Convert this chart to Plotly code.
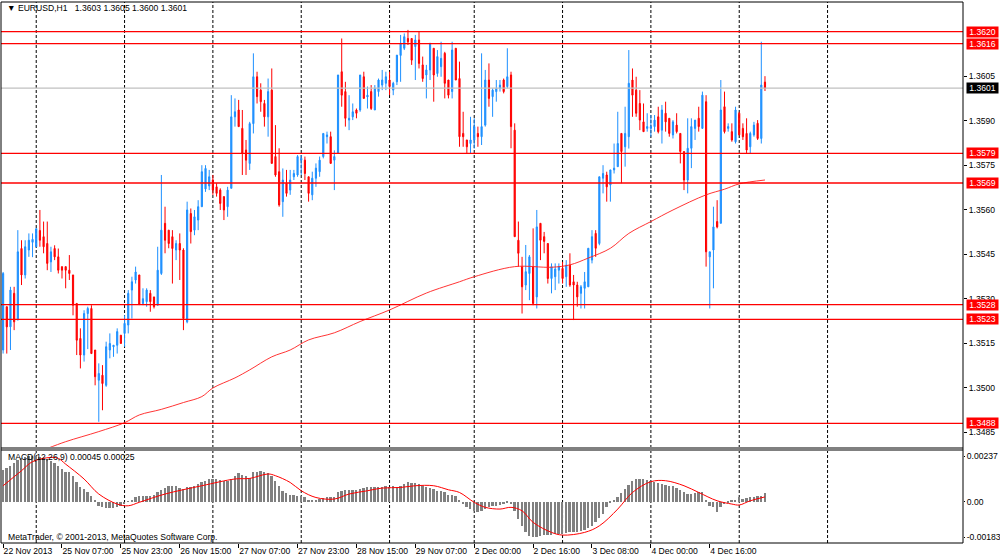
import plotly.graph_objects as go

# hourly bars, index 0 = 22 Nov 2013 15:00
opens = [
    1.35127, 1.35273, 1.35205, 1.35318, 1.35228, 1.35469, 1.35380, 1.35464, 1.35490, 1.35475,
    1.35530, 1.35509, 1.35486, 1.35424, 1.35469, 1.35441, 1.35408, 1.35408, 1.35396, 1.35380,
    1.35284, 1.35166, 1.35110, 1.35250, 1.35267, 1.35127, 1.35025, 1.35042, 1.35008, 1.35127,
    1.35138, 1.35143, 1.35177, 1.35183, 1.35211, 1.35329, 1.35363, 1.35380, 1.35284, 1.35290,
    1.35318, 1.35306, 1.35278, 1.35385, 1.35554, 1.35531, 1.35509, 1.35464, 1.35486, 1.35464,
    1.35222, 1.35587, 1.35531, 1.35565, 1.35610, 1.35670, 1.35680, 1.35700, 1.35677, 1.35666,
    1.35644, 1.35610, 1.35672, 1.35913, 1.35936, 1.35874, 1.35801, 1.35756, 1.35890, 1.36048,
    1.36003, 1.35958, 1.35913, 1.36003, 1.35779, 1.35728, 1.35627, 1.35689, 1.35666, 1.35711,
    1.35717, 1.35767, 1.35767, 1.35711, 1.35650, 1.35706, 1.35728, 1.35779, 1.35846, 1.35846,
    1.35767, 1.35790, 1.36065, 1.35998, 1.35902, 1.35913, 1.35936, 1.35936, 1.36048, 1.35980,
    1.35998, 1.35936, 1.35998, 1.36020, 1.36026, 1.36037, 1.36003, 1.36031, 1.36120, 1.36144,
    1.36177, 1.36177, 1.36150, 1.36172, 1.36088, 1.36054, 1.36071, 1.36144, 1.36059, 1.36082,
    1.36127, 1.36037, 1.35998, 1.36144, 1.36042, 1.35857, 1.35835, 1.35823, 1.35835, 1.35857,
    1.35846, 1.35885, 1.36037, 1.35981, 1.35998, 1.36009, 1.36037, 1.36015, 1.36054, 1.35868,
    1.35497, 1.35408, 1.35346, 1.35385, 1.35408, 1.35306, 1.35554, 1.35509, 1.35486, 1.35368,
    1.35374, 1.35396, 1.35402, 1.35374, 1.35413, 1.35357, 1.35346, 1.35318, 1.35335, 1.35340,
    1.35430, 1.35520, 1.35486, 1.35706, 1.35717, 1.35683, 1.35734, 1.35745, 1.35857, 1.35812,
    1.35846, 1.36037, 1.36003, 1.35958, 1.35896, 1.35874, 1.35874, 1.35880, 1.35913, 1.35868,
    1.35925, 1.35908, 1.35852, 1.35885, 1.35857, 1.35796, 1.35700, 1.35807, 1.35874, 1.35908,
    1.35874, 1.35964, 1.35441, 1.35464, 1.35560, 1.35554, 1.35947, 1.35874, 1.35863, 1.35829,
    1.35925, 1.35874, 1.35857, 1.35812, 1.35852, 1.35891, 1.35840, 1.36030,
]
highs = [
    1.35390, 1.35273, 1.35340, 1.35340, 1.35531, 1.35497, 1.35497, 1.35520, 1.35520, 1.35536,
    1.35599, 1.35560, 1.35560, 1.35475, 1.35480, 1.35469, 1.35408, 1.35408, 1.35447, 1.35380,
    1.35284, 1.35200, 1.35261, 1.35273, 1.35278, 1.35127, 1.35082, 1.35076, 1.35155, 1.35183,
    1.35144, 1.35200, 1.35177, 1.35244, 1.35329, 1.35374, 1.35408, 1.35380, 1.35335, 1.35335,
    1.35329, 1.35306, 1.35475, 1.35717, 1.35610, 1.35531, 1.35531, 1.35497, 1.35520, 1.35470,
    1.35627, 1.35604, 1.35599, 1.35632, 1.35750, 1.35750, 1.35734, 1.35717, 1.35689, 1.35672,
    1.35644, 1.35677, 1.35986, 1.35975, 1.35970, 1.35936, 1.35835, 1.35896, 1.36127, 1.36065,
    1.36026, 1.35970, 1.36042, 1.36076, 1.35885, 1.35807, 1.35739, 1.35734, 1.35734, 1.35734,
    1.35784, 1.35784, 1.35779, 1.35711, 1.35728, 1.35756, 1.35779, 1.35857, 1.35863, 1.35863,
    1.35800, 1.36054, 1.36177, 1.36031, 1.35986, 1.35958, 1.35941, 1.36054, 1.36065, 1.36015,
    1.36020, 1.36020, 1.36042, 1.36071, 1.36065, 1.36065, 1.36031, 1.36121, 1.36189, 1.36194,
    1.36206, 1.36177, 1.36189, 1.36200, 1.36116, 1.36088, 1.36161, 1.36144, 1.36138, 1.36166,
    1.36132, 1.36037, 1.36166, 1.36144, 1.36099, 1.35930, 1.35835, 1.35913, 1.35908, 1.35880,
    1.36127, 1.36071, 1.36093, 1.36009, 1.36037, 1.36037, 1.36042, 1.36144, 1.36065, 1.35891,
    1.35560, 1.35441, 1.35481, 1.35447, 1.35537, 1.35599, 1.35554, 1.35525, 1.35486, 1.35419,
    1.35419, 1.35419, 1.35424, 1.35430, 1.35453, 1.35380, 1.35357, 1.35346, 1.35390, 1.35470,
    1.35531, 1.35531, 1.35711, 1.35750, 1.35728, 1.35734, 1.35823, 1.35930, 1.35857, 1.35947,
    1.36138, 1.36076, 1.36048, 1.36003, 1.35958, 1.35925, 1.35919, 1.35919, 1.35947, 1.35953,
    1.35964, 1.35908, 1.35902, 1.35925, 1.35857, 1.35796, 1.35908, 1.35908, 1.35902, 1.35947,
    1.35998, 1.35986, 1.35458, 1.35610, 1.35632, 1.36037, 1.35998, 1.35891, 1.35891, 1.35947,
    1.35930, 1.35891, 1.35908, 1.35863, 1.35896, 1.35902, 1.36166, 1.36050,
]
lows = [
    1.35115, 1.35115, 1.35127, 1.35194, 1.35228, 1.35346, 1.35368, 1.35441, 1.35440, 1.35475,
    1.35475, 1.35453, 1.35396, 1.35390, 1.35430, 1.35385, 1.35368, 1.35335, 1.35363, 1.35244,
    1.35110, 1.35065, 1.35088, 1.35130, 1.35115, 1.35008, 1.34885, 1.34924, 1.35003, 1.35099,
    1.35104, 1.35115, 1.35149, 1.35138, 1.35183, 1.35233, 1.35351, 1.35280, 1.35278, 1.35273,
    1.35256, 1.35267, 1.35278, 1.35380, 1.35453, 1.35470, 1.35351, 1.35430, 1.35363, 1.35194,
    1.35217, 1.35486, 1.35514, 1.35531, 1.35610, 1.35660, 1.35666, 1.35650, 1.35644, 1.35599,
    1.35565, 1.35576, 1.35672, 1.35880, 1.35880, 1.35717, 1.35717, 1.35734, 1.35857, 1.35958,
    1.35930, 1.35880, 1.35846, 1.35756, 1.35711, 1.35610, 1.35576, 1.35644, 1.35650, 1.35700,
    1.35711, 1.35717, 1.35700, 1.35627, 1.35632, 1.35677, 1.35711, 1.35773, 1.35823, 1.35756,
    1.35666, 1.35790, 1.35947, 1.35880, 1.35868, 1.35902, 1.35908, 1.35930, 1.35975, 1.35941,
    1.35936, 1.35936, 1.35981, 1.36003, 1.36003, 1.35986, 1.35986, 1.36020, 1.36031, 1.36138,
    1.36155, 1.36088, 1.36037, 1.36076, 1.36031, 1.35975, 1.36037, 1.35964, 1.36048, 1.36048,
    1.35975, 1.35975, 1.35975, 1.36037, 1.35812, 1.35812, 1.35790, 1.35790, 1.35806, 1.35812,
    1.35818, 1.35880, 1.35947, 1.35913, 1.35964, 1.35998, 1.35992, 1.36009, 1.35807, 1.35509,
    1.35408, 1.35250, 1.35329, 1.35295, 1.35278, 1.35267, 1.35430, 1.35453, 1.35351, 1.35318,
    1.35329, 1.35351, 1.35351, 1.35340, 1.35340, 1.35228, 1.35273, 1.35267, 1.35267, 1.35340,
    1.35419, 1.35441, 1.35480, 1.35655, 1.35627, 1.35627, 1.35722, 1.35745, 1.35689, 1.35745,
    1.35806, 1.35913, 1.35913, 1.35868, 1.35863, 1.35863, 1.35846, 1.35863, 1.35857, 1.35823,
    1.35863, 1.35846, 1.35840, 1.35857, 1.35756, 1.35666, 1.35655, 1.35740, 1.35835, 1.35863,
    1.35874, 1.35408, 1.35267, 1.35335, 1.35537, 1.35554, 1.35857, 1.35863, 1.35829, 1.35823,
    1.35852, 1.35835, 1.35790, 1.35790, 1.35846, 1.35835, 1.35823, 1.36000,
]
closes = [
    1.35385, 1.35205, 1.35329, 1.35222, 1.35458, 1.35380, 1.35475, 1.35497, 1.35500, 1.35536,
    1.35497, 1.35475, 1.35419, 1.35458, 1.35441, 1.35396, 1.35396, 1.35396, 1.35385, 1.35278,
    1.35160, 1.35110, 1.35250, 1.35267, 1.35115, 1.35037, 1.35048, 1.35014, 1.35138, 1.35149,
    1.35143, 1.35189, 1.35149, 1.35217, 1.35318, 1.35357, 1.35390, 1.35280, 1.35300, 1.35329,
    1.35290, 1.35273, 1.35396, 1.35531, 1.35497, 1.35486, 1.35469, 1.35486, 1.35464, 1.35233,
    1.35599, 1.35526, 1.35576, 1.35610, 1.35728, 1.35739, 1.35711, 1.35666, 1.35655, 1.35621,
    1.35599, 1.35666, 1.35913, 1.35930, 1.35880, 1.35790, 1.35767, 1.35890, 1.36048, 1.35981,
    1.35964, 1.35913, 1.35998, 1.35756, 1.35717, 1.35616, 1.35700, 1.35655, 1.35700, 1.35722,
    1.35779, 1.35773, 1.35722, 1.35655, 1.35706, 1.35740, 1.35767, 1.35857, 1.35852, 1.35756,
    1.35779, 1.36054, 1.35986, 1.35908, 1.35908, 1.35930, 1.35925, 1.36054, 1.35975, 1.35986,
    1.35941, 1.36009, 1.36037, 1.36037, 1.36048, 1.36015, 1.36026, 1.36121, 1.36161, 1.36183,
    1.36166, 1.36104, 1.36172, 1.36093, 1.36042, 1.36071, 1.36161, 1.36054, 1.36116, 1.36110,
    1.36026, 1.35986, 1.36138, 1.36037, 1.35846, 1.35846, 1.35812, 1.35835, 1.35880, 1.35846,
    1.35880, 1.36037, 1.35975, 1.36003, 1.36009, 1.36020, 1.35998, 1.36048, 1.35880, 1.35509,
    1.35453, 1.35340, 1.35391, 1.35441, 1.35284, 1.35542, 1.35497, 1.35493, 1.35368, 1.35408,
    1.35400, 1.35408, 1.35368, 1.35413, 1.35346, 1.35346, 1.35306, 1.35340, 1.35357, 1.35470,
    1.35509, 1.35470, 1.35711, 1.35722, 1.35677, 1.35734, 1.35740, 1.35823, 1.35796, 1.35857,
    1.36026, 1.35986, 1.35925, 1.35902, 1.35863, 1.35880, 1.35880, 1.35902, 1.35863, 1.35936,
    1.35896, 1.35857, 1.35896, 1.35863, 1.35796, 1.35700, 1.35807, 1.35880, 1.35902, 1.35880,
    1.35986, 1.35458, 1.35458, 1.35542, 1.35542, 1.35936, 1.35863, 1.35880, 1.35835, 1.35936,
    1.35852, 1.35846, 1.35801, 1.35857, 1.35885, 1.35840, 1.36020, 1.36010,
]
bars = list(range(len(closes)))

# moving average at a few bars
ma_bars = [12, 17, 26, 33, 37, 43, 49, 54, 57, 63, 67, 73, 78, 83, 90, 97, 105, 115, 124, 128,
           139, 149, 154, 159, 165, 170, 176, 182, 191, 196, 200, 207]
ma_vals = [1.34795, 1.34818, 1.34852, 1.34882, 1.34908, 1.34927, 1.34950, 1.34970, 1.34999, 1.35033,
           1.35060, 1.35104, 1.35127, 1.35161, 1.35185, 1.35223, 1.35262, 1.35319, 1.35357, 1.35374,
           1.35408, 1.35406, 1.35414, 1.35437, 1.35470, 1.35520, 1.35560, 1.35599, 1.35650, 1.35669,
           1.35687, 1.35700]

# MACD(12,26,9) histogram per bar
macd = [
    0.00166, 0.00173, 0.00187, 0.00201, 0.00218, 0.00225, 0.00230, 0.00235, 0.00237, 0.00235,
    0.00232, 0.00225, 0.00221, 0.00213, 0.00201, 0.00183, 0.00170, 0.00156, 0.00152, 0.00131,
    0.00104, 0.00074, 0.00066, 0.00048, 0.00028, 0.00005, -0.00021, -0.00029, -0.00033, -0.00033,
    -0.00033, -0.00029, -0.00024, -0.00012, 0.00002, 0.00009, 0.00022, 0.00028, 0.00028, 0.00028,
    0.00031, 0.00035, 0.00048, 0.00062, 0.00069, 0.00080, 0.00080, 0.00080, 0.00069, 0.00066,
    0.00074, 0.00078, 0.00083, 0.00092, 0.00100, 0.00109, 0.00118, 0.00118, 0.00118, 0.00114,
    0.00109, 0.00109, 0.00118, 0.00131, 0.00147, 0.00138, 0.00135, 0.00121, 0.00152, 0.00156,
    0.00157, 0.00152, 0.00149, 0.00131, 0.00109, 0.00083, 0.00057, 0.00045, 0.00035, 0.00035,
    0.00031, 0.00028, 0.00022, 0.00010, 0.00009, 0.00009, 0.00014, 0.00017, 0.00022, 0.00022,
    0.00022, 0.00048, 0.00057, 0.00061, 0.00061, 0.00061, 0.00061, 0.00066, 0.00069, 0.00074,
    0.00074, 0.00074, 0.00074, 0.00074, 0.00080, 0.00074, 0.00080, 0.00074, 0.00083, 0.00092,
    0.00100, 0.00097, 0.00095, 0.00092, 0.00083, 0.00074, 0.00069, 0.00066, 0.00057, 0.00057,
    0.00048, 0.00035, 0.00035, 0.00031, 0.00010, -0.00012, -0.00029, -0.00038, -0.00047, -0.00052,
    -0.00047, -0.00038, -0.00029, -0.00024, -0.00021, -0.00017, -0.00012, -0.00007, -0.00012, -0.00047,
    -0.00090, -0.00125, -0.00156, -0.00176, -0.00183, -0.00181, -0.00177, -0.00174, -0.00174, -0.00171,
    -0.00166, -0.00166, -0.00166, -0.00161, -0.00159, -0.00156, -0.00156, -0.00151, -0.00145, -0.00138,
    -0.00128, -0.00107, -0.00087, -0.00064, -0.00029, -0.00003, 0.00010, 0.00022, 0.00045, 0.00066,
    0.00087, 0.00107, 0.00118, 0.00118, 0.00118, 0.00114, 0.00109, 0.00104, 0.00097, 0.00092,
    0.00087, 0.00083, 0.00080, 0.00069, 0.00062, 0.00048, 0.00040, 0.00040, 0.00043, 0.00048,
    0.00048, 0.00005, -0.00021, -0.00029, -0.00052, -0.00029, -0.00012, -0.00003, 0.00005, 0.00005,
    0.00022, 0.00014, 0.00017, 0.00022, 0.00026, 0.00028, 0.00031, 0.00045,
]
# signal line read at a few bars
sig_bars = [0, 5, 8, 13, 15, 17, 22, 26, 31, 34, 37, 44, 54, 63, 67, 72, 74, 78, 81, 85,
            90, 94, 99, 103, 108, 112, 117, 121, 124, 128, 131, 135, 138, 141, 144, 149, 152, 158, 162, 167,
            171, 176, 180, 185, 189, 194, 198, 200, 203, 207]
sig_vals = [0.00083, 0.00161, 0.00208, 0.00230, 0.00225, 0.00195, 0.00118, 0.00040, -0.00012, -0.00021,
            -0.00003, 0.00040, 0.00083, 0.00118, 0.00121, 0.00144, 0.00135, 0.00100, 0.00057, 0.00022,
            0.00014, 0.00040, 0.00057, 0.00071, 0.00074, 0.00083, 0.00083, 0.00062, 0.00048, -0.00003,
            -0.00029, -0.00038, -0.00029, -0.00047, -0.00107, -0.00159, -0.00173, -0.00159, -0.00125, -0.00038,
            0.00048, 0.00104, 0.00109, 0.00083, 0.00048, 0.00005, -0.00012, -0.00017, 0.00005, 0.00025]

# horizontal levels
red_levels = [1.3620, 1.3616, 1.3579, 1.3569, 1.3528, 1.3523, 1.3488]
bid_level = 1.3601
price_ticks = [1.3605, 1.3590, 1.3575, 1.3560, 1.3545, 1.3530, 1.3515, 1.3500, 1.3485]
macd_ticks = [0.00237, 0.0, -0.00183]
macd_tick_text = ["0.00237", "0.00", "-0.00183"]

# day separators and time labels (bar positions)
day_bars = [9, 33, 57, 81, 105, 128, 152, 176, 200, 224]
time_bars = [0, 16, 32, 48, 64, 80, 96, 112, 128, 144, 160, 176, 192]
time_text = ["22 Nov 2013", "25 Nov 07:00", "25 Nov 23:00", "26 Nov 15:00", "27 Nov 07:00",
             "27 Nov 23:00", "28 Nov 15:00", "29 Nov 07:00", "2 Dec 00:00", "2 Dec 16:00",
             "3 Dec 08:00", "4 Dec 00:00", "4 Dec 16:00"]

FONT = "Liberation Sans, Arial, sans-serif"
FS = 8.6
BLUE = "#1E90FF"
RED = "#FF0000"

fig = go.Figure()

fig.add_trace(go.Candlestick(
    x=bars, open=opens, high=highs, low=lows, close=closes,
    increasing=dict(line=dict(color=BLUE, width=1), fillcolor=BLUE),
    decreasing=dict(line=dict(color=RED, width=1), fillcolor=RED),
    whiskerwidth=0, showlegend=False, hoverinfo="skip",
    xaxis="x", yaxis="y",
))
fig.add_trace(go.Scatter(
    x=ma_bars, y=ma_vals, mode="lines",
    line=dict(color="rgba(255,30,30,0.9)", width=1, shape="spline"),
    showlegend=False, hoverinfo="skip", xaxis="x", yaxis="y",
))
fig.add_trace(go.Bar(
    x=bars, y=macd, width=0.5, marker=dict(color="#808080", line=dict(width=0)),
    showlegend=False, hoverinfo="skip", xaxis="x2", yaxis="y2",
))
fig.add_trace(go.Scatter(
    x=sig_bars, y=sig_vals, mode="lines",
    line=dict(color=RED, width=1, shape="spline"),
    showlegend=False, hoverinfo="skip", xaxis="x2", yaxis="y2",
))

shapes = []
# period separators
for b in day_bars:
    shapes.append(dict(type="line", xref="x", yref="paper", x0=b, x1=b, y0=0, y1=1,
                       line=dict(color="black", width=1, dash="3px,2px"), layer="below"))
# levels
for lv in red_levels:
    shapes.append(dict(type="line", xref="paper", yref="y", x0=0, x1=1, y0=lv, y1=lv,
                       line=dict(color=RED, width=1.3)))
shapes.append(dict(type="line", xref="paper", yref="y", x0=0, x1=1, y0=bid_level, y1=bid_level,
                   line=dict(color="#C0C0C0", width=1.3)))
# panel separator and frame
shapes.append(dict(type="rect", xref="paper", yref="paper", x0=0, x1=1, y0=0.170, y1=0.1774,
                   fillcolor="#808080", line=dict(width=0)))
shapes.append(dict(type="rect", xref="paper", yref="paper", x0=0, x1=1, y0=0, y1=1,
                   line=dict(color="black", width=1)))

annotations = []
for lv in red_levels:
    annotations.append(dict(xref="paper", yref="y", x=1.003, y=lv, xanchor="left", yanchor="middle",
                            text=f"{lv:.4f}", showarrow=False, bgcolor=RED, borderpad=0,
                            width=31, height=10, font=dict(family=FONT, size=FS, color="white")))
annotations.append(dict(xref="paper", yref="y", x=1.003, y=bid_level, xanchor="left", yanchor="middle",
                        text=f"{bid_level:.4f}", showarrow=False, bgcolor="black", borderpad=0,
                        width=31, height=10, font=dict(family=FONT, size=FS, color="white")))
annotations.append(dict(xref="paper", yref="paper", x=0.004, y=0.989, xanchor="left", yanchor="middle",
                        text="▼ EURUSD,H1\u00a0\u00a0 1.3603 1.3605 1.3600 1.3601", showarrow=False,
                        font=dict(family=FONT, size=FS, color="black")))
annotations.append(dict(xref="paper", yref="paper", x=0.005, y=0.159, xanchor="left", yanchor="middle",
                        text="MACD(12,26,9) 0.00045 0.00025", showarrow=False,
                        font=dict(family=FONT, size=FS, color="black")))
annotations.append(dict(xref="paper", yref="paper", x=0.005, y=0.011, xanchor="left", yanchor="middle",
                        text="MetaTrader, © 2001-2013, MetaQuotes Software Corp.", showarrow=False,
                        font=dict(family=FONT, size=FS, color="black")))

xrange = [-0.57, 260.8]
fig.update_layout(
    width=1000, height=560,
    margin=dict(l=1, r=37, t=2, b=17, pad=0),
    paper_bgcolor="white", plot_bgcolor="white",
    boxgap=0.55,
    bargap=0,
    showlegend=False,
    shapes=shapes,
    annotations=annotations,
    xaxis=dict(domain=[0, 1], range=xrange, anchor="y", showticklabels=False, showgrid=False,
               zeroline=False, showline=False, ticks="", automargin=False,
               rangeslider=dict(visible=False)),
    yaxis=dict(domain=[0.1774, 1], range=[1.3480, 1.3630], side="right", anchor="x",
               tickvals=price_ticks, ticktext=[f"{t:.4f}" for t in price_ticks],
               ticks="outside", ticklen=3, tickcolor="black", showgrid=False, zeroline=False,
               showline=False, automargin=False, tickfont=dict(family=FONT, size=FS, color="black")),
    xaxis2=dict(domain=[0, 1], range=xrange, anchor="y2", matches="x", showgrid=False,
                zeroline=False, showline=False, tickvals=time_bars, ticktext=time_text,
                ticks="outside", ticklen=4, tickcolor="black", ticklabelposition="outside right",
                tickangle=0, automargin=False,
                tickfont=dict(family=FONT, size=FS, color="black"), rangeslider=dict(visible=False)),
    yaxis2=dict(domain=[0, 0.170], range=[-0.00214, 0.00263], side="right", anchor="x2",
                tickvals=macd_ticks, ticktext=macd_tick_text, ticks="outside", ticklen=1,
                tickcolor="black", showgrid=False, zeroline=False, showline=False, automargin=False,
                tickfont=dict(family=FONT, size=FS, color="black")),
)

# the page body has a default 8px margin; remove it so the chart sits at the window corner
fig.write_html("out.html", config={"displayModeBar": False},
               post_script="document.body.style.margin='0px';")
